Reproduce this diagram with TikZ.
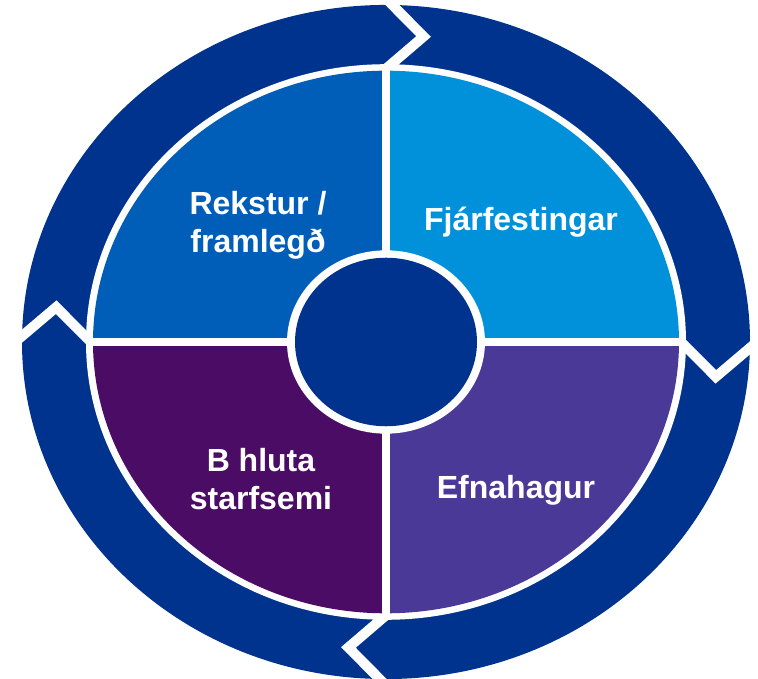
\documentclass[tikz,border=0pt]{standalone}
\usepackage{fontspec}
\setmainfont{Liberation Sans}
\usetikzlibrary{positioning, calc}
\definecolor{ringblue}{RGB}{0,51,141}
\definecolor{rekstur}{RGB}{0,94,184}
\definecolor{fjarfest}{RGB}{0,145,218}
\definecolor{bhluti}{RGB}{74,12,100}
\definecolor{efnahag}{RGB}{75,57,152}
\tikzset{
	quarter/.style={text=white, font=\bfseries\fontsize{32}{38}\selectfont, align=center},
	cut/.style={white, line width=10pt, line join=miter},
	divider/.style={white, line width=8pt},
}
% white chevron cut through the ring, #1 = angle of the cut
\newcommand{\ringcut}[1]{
	\coordinate (tip) at (#1-6.5:332);
	\draw[cut] ($(tip)!1.6!(#1-1:364)$) -- (tip) -- ($(tip)!1.6!(#1-1:300)$);
}

\begin{document}
\begin{tikzpicture}[x=1pt, y=1pt]
	\useasboundingbox (-386,-337) rectangle (372,342);
	\coordinate (CENTRE) at (0,0);
	\begin{scope}[yscale=0.926]
		% outer ring
		\fill[ringblue] (CENTRE) circle (364);
		\foreach \a in {90,0,270,180} {\ringcut{\a}}
		\fill[white] (CENTRE) circle (300);
		% the four quarters
		\fill[rekstur] (CENTRE) -- (180:293) arc[start angle=180, end angle=90, radius=293] -- cycle;
		\fill[fjarfest] (CENTRE) -- (90:293) arc[start angle=90, end angle=0, radius=293] -- cycle;
		\fill[efnahag] (CENTRE) -- (0:293) arc[start angle=0, end angle=-90, radius=293] -- cycle;
		\fill[bhluti] (CENTRE) -- (270:293) arc[start angle=270, end angle=180, radius=293] -- cycle;
		\draw[divider] (180:294) -- (0:294);
		\draw[divider] (90:294) -- (270:294);
		% hub
		\fill[white] (CENTRE) circle (99);
		\fill[ringblue] (CENTRE) circle (91);
	\end{scope}

	\node[quarter] (REKSTUR) at (-128,117) {Rekstur /\\framlegð};
	\node[quarter] (FJARFEST) at (135,120) {Fjárfestingar};
	\node[quarter] (BHLUTI) at (-125,-137) {B hluta\\starfsemi};
	\node[quarter] (EFNAHAG) at (130,-148) {Efnahagur};
\end{tikzpicture}
\end{document}
